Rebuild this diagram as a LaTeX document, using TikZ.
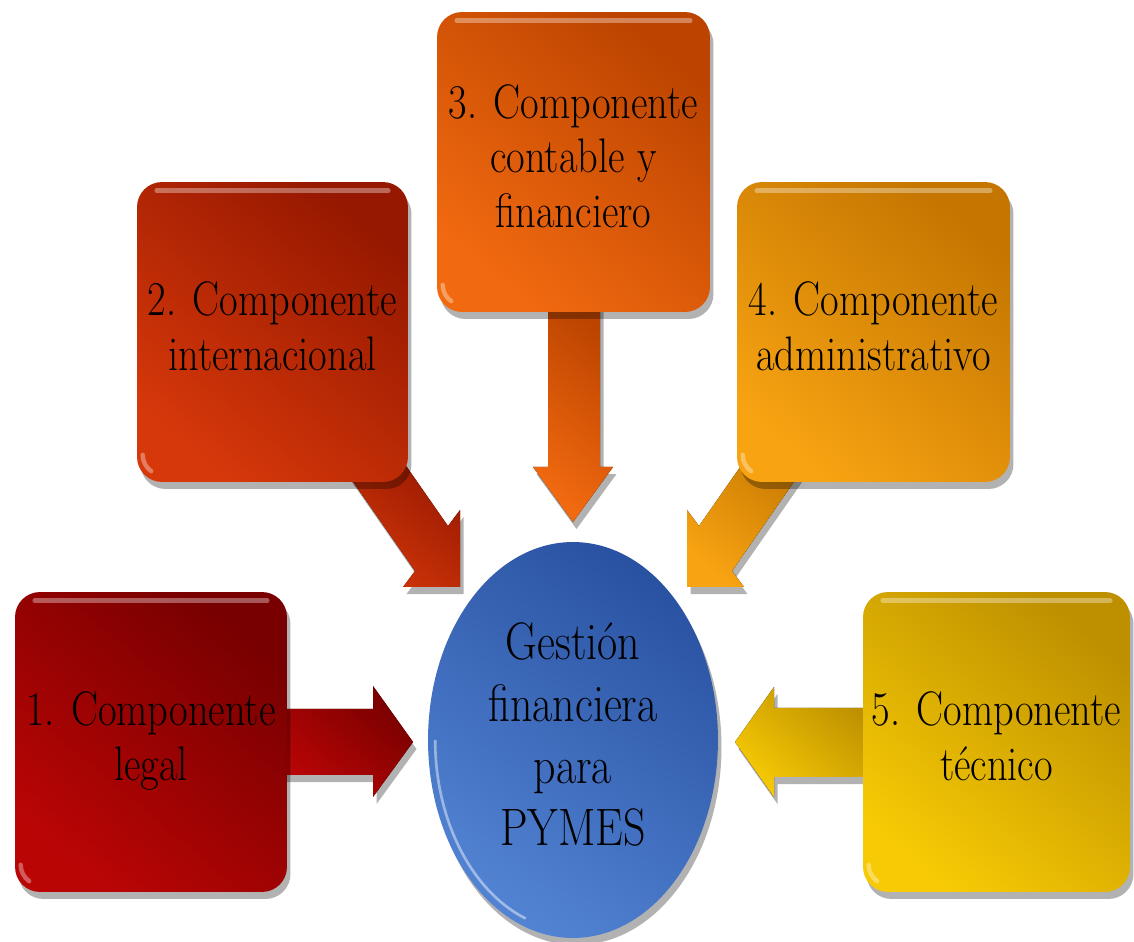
\documentclass[tikz,border=0pt]{standalone}
\usepackage{fontspec}
\usepackage{graphicx}
\usetikzlibrary{shadows,shapes.geometric}
\definecolor{ra}{HTML}{BA0505}\definecolor{rb}{HTML}{780000}
\definecolor{oa}{HTML}{D6380A}\definecolor{ob}{HTML}{961800}
\definecolor{na}{HTML}{F26A10}\definecolor{nb}{HTML}{BC4400}
\definecolor{aa}{HTML}{F7A312}\definecolor{ab}{HTML}{C47600}
\definecolor{ya}{HTML}{F7CA05}\definecolor{yb}{HTML}{BE9000}
\definecolor{ba}{HTML}{5283D3}\definecolor{bb}{HTML}{2A52A2}
\newcommand\tallt[1]{\scalebox{1}[1.2]{\begin{tabular}{@{}c@{}}#1\end{tabular}}}
\tikzset{
  sh/.style={drop shadow={shadow xshift=2pt,shadow yshift=-4pt,opacity=0.3,fill=black}},
  compbox/.style={rounded corners=0.5cm, minimum width=5.44cm, minimum height=6cm,
     align=center, sh, font=\fontsize{23}{26}\selectfont, inner sep=0pt},
  fillgrad/.style 2 args={top color=#2, bottom color=#1, shading angle=-40},
  arr/.style 2 args={top color=#2, bottom color=#1, shading angle=-40, sh},
  gloss/.style={white, opacity=0.35, line width=2.5pt, line cap=round},
}
\begin{document}
\begin{tikzpicture}[x=0.02cm,y=-0.02cm]
\useasboundingbox (0,0) rectangle (1134,942);
% arrows (connectors)
\coordinate (t1) at (413,742);
\coordinate (t2) at (460,587);
\coordinate (t3) at (573,522);
\coordinate (t4) at (687,587);
\coordinate (t5) at (735,742);
\fill[arr={ra}{rb}] (280,709) -- (373,709) -- (373,686) -- (t1) -- (373,797) -- (373,775) -- (280,775) -- cycle;
\fill[arr={oa}{ob}] (388,440) -- (448,526) -- (460,510) -- (t2) -- (403,587) -- (415,571) -- (324,440) -- cycle;
\fill[arr={na}{nb}] (600,300) -- (600,467) -- (613,467) -- (t3) -- (533,467) -- (548,467) -- (548,300) -- cycle;
\fill[arr={aa}{ab}] (759,440) -- (699,526) -- (687,510) -- (t4) -- (744,587) -- (732,571) -- (823,440) -- cycle;
\fill[arr={ya}{yb}] (870,708) -- (774,708) -- (774,687) -- (t5) -- (774,797) -- (774,777) -- (870,777) -- cycle;
% boxes
\node[compbox, minimum width=5.44cm, fillgrad={ra}{rb}] (b1) at (151,742) {\tallt{1. Componente\\legal}};
\node[compbox, minimum width=5.42cm, fillgrad={oa}{ob}] (b2) at (272.5,332) {\tallt{2. Componente\\internacional}};
\node[compbox, minimum width=5.46cm, fillgrad={na}{nb}] (b3) at (573.5,162) {\tallt{3. Componente\\contable y\\financiero}};
\node[compbox, minimum width=5.46cm, fillgrad={aa}{ab}] (b4) at (873.5,332) {\tallt{4. Componente\\administrativo}};
\node[compbox, minimum width=5.34cm, fillgrad={ya}{yb}] (b5) at (996.5,742) {\tallt{5. Componente\\técnico}};
\foreach \b in {b1,b2,b3,b4,b5}{
  \draw[gloss] ([xshift=0.4cm,yshift=-0.18cm]\b.north west) -- ([xshift=-0.4cm,yshift=-0.18cm]\b.north east);
  \draw[gloss] ([xshift=0.12cm,yshift=0.55cm]\b.south west) arc[start angle=180,end angle=235,radius=0.4cm];
}
% centre
\node[ellipse, minimum width=5.8cm, minimum height=7.92cm, sh, inner sep=0pt,
      top color=bb, bottom color=ba, shading angle=-35,
      align=center, font=\fontsize{25}{29.5}\selectfont] (c) at (573,740)
      {\tallt{Gestión\\financiera\\para\\PYMES}};
\draw[white, opacity=0.45, line width=1.5pt] ([xshift=0.15cm]c.west) arc[start angle=180, end angle=250, x radius=2.75cm, y radius=3.8cm];
\end{tikzpicture}
\end{document}
